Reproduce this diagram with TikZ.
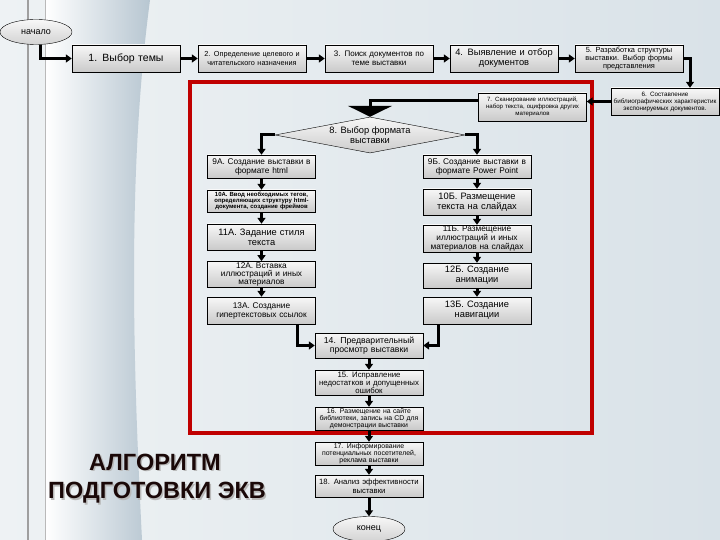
\documentclass[tikz,border=0pt]{standalone}
\usepackage{fontspec}
\setmainfont{Liberation Sans}
\usetikzlibrary{positioning,arrows.meta,shapes.geometric,calc}
\definecolor{framered}{HTML}{C00000}
\definecolor{bgbase}{HTML}{D9E2E8}
\definecolor{bglite}{HTML}{EEF2F4}
\definecolor{bgdeep}{HTML}{B7C6D1}
\definecolor{ink}{HTML}{1A0808}

\begin{document}
\begin{tikzpicture}[
  x=1pt, y=-1pt,
  tx/.style 2 args={font=\fontsize{#1}{#2}\selectfont},
  box/.style={draw, top color=gray!6, bottom color=gray!42, align=center,
              inner sep=1pt, text width=106pt, minimum width=108pt},
  oval/.style={ellipse, draw, top color=gray!6, bottom color=gray!35,
               minimum width=72pt, minimum height=25pt, inner sep=0pt},
  dia/.style={diamond, draw, top color=gray!6, bottom color=gray!40, aspect=5,
              inner sep=0pt, minimum width=190pt, minimum height=36pt, align=center},
  arr/.style={-{Triangle[length=6pt,width=8pt]}, line width=3pt},
  bigarr/.style={-{Triangle[length=11pt,width=44pt]}, line width=3pt},
  title/.style={font=\fontsize{23.5}{26}\selectfont\bfseries, text=ink},
  shade/.style={font=\fontsize{23.5}{26}\selectfont\bfseries, text=gray!55}
]
\useasboundingbox (0,0) rectangle (720,540);
% background
\shade[left color=bglite, right color=bgbase] (0,0) rectangle (720,540);
\shade[left color=white, right color=bgdeep] (45,0) -- (150,0)
  .. controls (126,180) and (134,380) .. (142,540) -- (45,540) -- cycle;
\draw[gray!75, line width=1.5pt] (28,0) -- (28,540);
\draw[gray!55, line width=1pt] (45,0) -- (45,540);

% red frame
\draw[framered, line width=4pt] (190,82) rectangle (592,433);

% top row
\node[oval, tx={9}{10}] (start) at (36,32) {начало};
\node[box, minimum height=27pt, tx={10.5}{11}] (s1) at (126,58.5) {1. Выбор темы};
\node[box, minimum height=27pt, tx={7.3}{8.3}] (s2) at (252,58.5) {2. Определение целевого и\\читательского назначения};
\node[box, minimum height=27pt, tx={8}{9}] (s3) at (379,58.5) {3. Поиск документов по\\теме выставки};
\node[box, minimum height=27pt, tx={9.3}{10}] (s4) at (504,58.5) {4. Выявление и отбор\\документов};
\node[box, minimum height=27pt, tx={7.4}{7.8}] (s5) at (629,58.5) {5. Разработка структуры\\выставки. Выбор формы\\представления};
\node[box, minimum height=27pt, tx={6.3}{7}] (s6) at (665,101.5) {6. Составление\\библиографических характеристик\\экспонируемых документов.};
\node[box, minimum height=28pt, tx={6.1}{7}] (s7) at (532.5,107) {7. Сканирование иллюстраций,\\набор текста, оцифровка других\\материалов};
\node[dia, tx={9.3}{10.5}] (s8) at (370,135) {8. Выбор формата\\выставки};

% left branch
\node[box, minimum height=23pt, tx={8.3}{9}] (a9) at (261.5,166.5) {9А. Создание выставки в\\формате html};
\node[box, minimum height=22pt, tx={6}{6.4}] (a10) at (261.5,201) {\bfseries 10А. Ввод необходимых тегов,\\определяющих структуру html-\\документа, создание фреймов};
\node[box, minimum height=26pt, tx={9.3}{10}] (a11) at (261.5,237) {11А. Задание стиля\\текста};
\node[box, minimum height=25pt, tx={8.3}{8.4}] (a12) at (261.5,274.5) {12А. Вставка\\иллюстраций и иных\\материалов};
\node[box, minimum height=27pt, tx={8.3}{9}] (a13) at (261.5,310.5) {13А. Создание\\гипертекстовых ссылок};

% right branch
\node[box, minimum height=23pt, tx={8.3}{9}] (b9) at (477,166.5) {9Б. Создание выставки в\\формате Power Point};
\node[box, minimum height=26pt, tx={9.3}{10}] (b10) at (477,202) {10Б. Размещение\\текста на слайдах};
\node[box, minimum height=27pt, tx={8.3}{8.6}] (b11) at (477,238.5) {11Б. Размещение\\иллюстраций и иных\\материалов на слайдах};
\node[box, minimum height=25pt, tx={9.3}{10}] (b12) at (477,275.5) {12Б. Создание\\анимации};
\node[box, minimum height=27pt, tx={9.3}{10}] (b13) at (477,310.5) {13Б. Создание\\навигации};

% common trunk
\node[box, minimum height=25pt, tx={8.7}{9.5}] (c14) at (369,345.5) {14. Предварительный\\просмотр выставки};
\node[box, minimum height=25pt, tx={7.8}{7.9}] (c15) at (369,382.5) {15. Исправление\\недостатков и допущенных\\ошибок};
\node[box, minimum height=23pt, tx={6.9}{7}] (c16) at (369,418.5) {16. Размещение на сайте\\библиотеки, запись на CD для\\демонстрации выставки};
\node[box, minimum height=23pt, tx={6.9}{7}] (c17) at (369,453.5) {17. Информирование\\потенциальных посетителей,\\реклама выставки};
\node[box, minimum height=22pt, tx={7.7}{8.5}] (c18) at (369,486) {18. Анализ эффективности\\выставки};
\node[oval, tx={9}{10}] (finish) at (369,529) {конец};

% connectors
\draw[arr] ([xshift=4pt]start.south) |- (s1.west);
\foreach \u/\v in {s1/s2,s2/s3,s3/s4,s4/s5}
  \draw[arr] (\u) -- (\v);
\draw[arr] (s5.east) -| ([xshift=25pt]s6.north);
\draw[arr] (s6.west) -- (s6.west -| s7.east);
\draw[bigarr] ([yshift=6pt]s7.west) -| (s8.north);
\draw[arr] (s8.west) -| (a9.north);
\draw[arr] (s8.east) -| (b9.north);
\foreach \u/\v in {a9/a10,a10/a11,a11/a12,a12/a13,b9/b10,b10/b11,b11/b12,b12/b13,c14/c15,c15/c16,c16/c17,c17/c18,c18/finish}
  \draw[arr] (\u) -- (\v);
\draw[arr] ([xshift=36pt]a13.south) |- (c14.west);
\draw[arr] ([xshift=-39pt]b13.south) |- (c14.east);

% title
\node[shade] (t1s) at (156.5,463.5) {АЛГОРИТМ};
\node[shade] (t2s) at (158.5,494.5) {ПОДГОТОВКИ ЭКВ};
\node[title] (t1) at (155,462) {АЛГОРИТМ};
\node[title] (t2) at (157,493) {ПОДГОТОВКИ ЭКВ};
\end{tikzpicture}
\end{document}
